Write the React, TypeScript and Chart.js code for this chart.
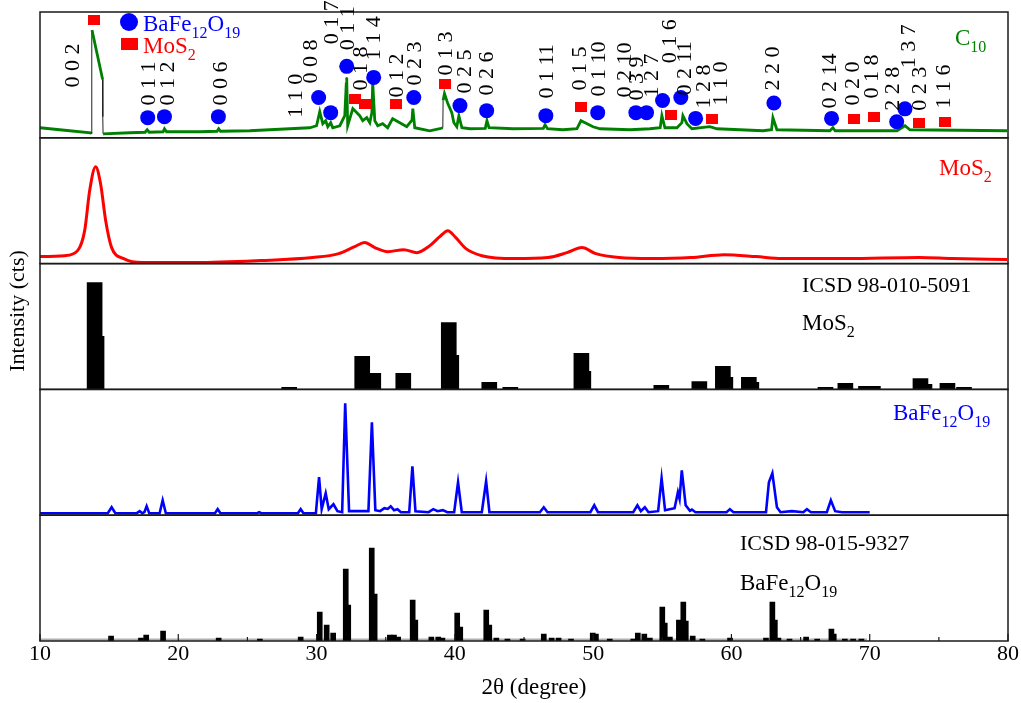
import React, { useEffect, useRef } from 'react';
import { Chart, registerables } from 'chart.js';
Chart.register(...registerables);

const FONT = '"Liberation Serif", "Times New Roman", serif';
const GREEN = '#008000';
const RED = '#ff0000';
const BLUE = '#0000ff';

// x axis tick labels (2θ, degree)
const xTickValues = [10, 20, 30, 40, 50, 60, 70, 80];

// ---- Panel 1: C10 measured pattern ----
const c10Angle = [10.0, 11.42, 13.66, 13.72, 13.73, 13.76, 14.53, 14.54, 14.56, 16.5, 17.6, 17.75, 17.9, 18.9, 19.0, 19.15,
  21.55, 22.8, 22.92, 23.05, 25.16, 28.06, 29.5, 30.0, 30.23, 30.45, 30.66, 30.81, 31.02, 31.17, 31.68, 32.04, 32.15,
  32.18, 32.25, 32.47, 32.62, 33.12, 33.34, 33.63, 33.85, 34.0, 34.06, 34.21, 34.42, 34.78, 35.14, 35.5, 36.02, 36.52,
  36.9, 36.96, 37.1, 38.18, 38.91, 39.13, 39.15, 39.25, 39.49, 39.78, 39.93, 40.14, 40.29, 40.51, 41.09, 42.2, 42.32,
  42.47, 44.2, 46.4, 46.52, 46.7, 47.82, 48.83, 49.12, 49.56, 49.99, 50.5, 52.67, 54.1, 54.85, 54.97, 55.19, 56.06,
  56.42, 56.49, 56.78, 57.14, 58.44, 58.95, 62.28, 62.9, 63.0, 63.29, 67.12, 67.34, 67.5, 71.97, 72.55, 72.91, 79.93];
const c10Intensity = [8, 6.4, 4, 3.2, 58.4, 85.6, 46.4, 16.8, 3.2, 4.0, 4.4, 6.4, 4.4, 4.8, 7.2, 4.8,
  4.8, 5.2, 7.2, 5.2, 5.6, 7.2, 8.0, 9.6, 20.8, 11.2, 13.6, 8.8, 12, 8, 9.6, 17.6, 44,
  48, 9.6, 17.6, 23.2, 17.6, 13.6, 16, 12, 20, 44, 13.6, 9.6, 11.2, 8, 15.2, 12, 8.8,
  14, 23.2, 8, 5.6, 7.2, 8, 29.6, 35.2, 27.2, 20, 12, 8.8, 17.6, 8, 7.2, 7.5, 13.6,
  8, 7.2, 7.5, 10.4, 7.2, 6.4, 7.2, 13.6, 11.2, 8.8, 7.2, 6.4, 7.2, 8, 17.6, 8, 8,
  12, 17.6, 11.2, 7.2, 8.8, 7.2, 5.6, 6.4, 16, 6.4, 5.6, 8, 5.6, 5.6, 9.6, 6.4, 5.6];

// phase markers on the C10 pattern
const ferriteMarkAngle = [17.79, 19.0, 22.9, 30.15, 31.02, 32.18, 34.13, 37.03, 40.37, 42.3, 46.58, 50.33, 53.09, 53.86,
  55.02, 56.34, 57.41, 63.07, 67.24, 71.95, 72.55];
const ferriteMarkHeight = [16, 16.8, 16.8, 32, 20, 56.8, 48, 32, 25.6, 21.6, 17.6, 20, 20, 20,
  29.6, 32, 15.4, 27.7, 15.4, 12.8, 23];
const mos2MarkAngle = [13.88, 32.75, 33.47, 35.72, 39.27, 49.12, 55.63, 58.6, 68.86, 70.31, 73.56, 75.44];
const mos2MarkHeight = [93.6, 31.2, 27.2, 27.2, 42.4, 24.8, 18.4, 15.2, 15.2, 16.8, 12, 12.8];

// Miller indices (label text, 2θ, bottom of label in panel-1 units)
const hklText = ['0 0 2', '0 1 1', '0 1 2', '0 0 6', '1 1 0', '0 0 8', '0 1 7', '0 1 1', '0 1 8', '1 1 4', '0 1 2', '0 2 3',
  '0 1 3', '0 2 5', '0 2 6', '0 1 11', '0 1 5', '0 1 10', '0 2 10', '0 3 9', '1 2 7', '0 1 6', '0 2 11', '1 2 8', '1 1 0',
  '2 2 0', '0 2 14', '0 2 0', '0 1 8', '2 2 8', '1 3 7', '0 2 3', '1 1 6'];
const hklAngle = [12.43, 17.93, 19.3, 23.14, 28.56, 29.58, 31.12, 32.32, 33.26, 34.2, 35.8, 37.1,
  39.34, 40.72, 42.32, 46.66, 49.04, 50.41, 52.29, 53.16, 54.24, 55.55, 56.63, 58.0, 59.25,
  63.0, 67.12, 68.79, 70.16, 71.68, 72.84, 73.63, 75.37];
const hklHeight = [40, 25.6, 25.6, 25.6, 16, 43.2, 74.4, 69.6, 37.6, 61.6, 32, 41.6,
  49.6, 35.2, 33.6, 31.2, 37.6, 32.8, 32, 29.6, 32, 59.2, 33.6, 23.2, 25.6,
  37.6, 23.2, 25.6, 31.2, 21.6, 55.2, 21.6, 23.2];

// ---- Panel 2: MoS2 measured pattern ----
const mos2Angle = [10.0, 11.78, 12.72, 13.23, 13.59, 14.02, 14.38, 14.75, 15.18, 16.05, 17.42, 21.26, 25.96, 29.72, 31.6,
  32.76, 33.48, 34.21, 35.15, 36.31, 37.25, 38.19, 38.91, 39.49, 40.07, 40.8, 41.95, 44.34, 46.73, 48.11, 49.19, 50.2,
  51.87, 54.25, 57.07, 59.46, 61.78, 63.66, 68.36, 73.57, 75.96, 79.93];
const mos2Intensity = [5.6, 6.3, 10.3, 26.2, 57.9, 77.0, 63.5, 34.1, 12.7, 4.0, 0.8, 0.8, 2.4, 4.8, 7.9,
  13.5, 16.7, 12.7, 9.5, 11.1, 8.7, 14.3, 21.4, 26.2, 20.6, 11.9, 6.3, 4.0, 4.8, 8.7, 12.7, 7.9,
  4.8, 4.0, 4.8, 7.1, 5.6, 4.0, 4.0, 4.8, 4.0, 3.2];

// ---- Panel 3: ICSD 98-010-5091 MoS2 reference ----
const mos2RefAngle = [13.95, 14.09, 28.02, 33.3, 34.1, 36.27, 39.56, 39.74, 42.49, 44.01, 49.15, 49.29, 54.93, 57.68,
  59.38, 59.56, 61.26, 61.44, 66.8, 68.24, 69.73, 70.23, 73.67, 73.96, 75.62, 76.82];
const mos2RefIntensity = [84.9, 42.1, 1.6, 26.2, 12.7, 12.7, 53.2, 27.0, 5.6, 1.6, 28.6, 14.3, 3.2, 6.3,
  18.3, 9.5, 9.5, 5.6, 1.6, 4.8, 2.4, 2.4, 8.7, 4.0, 4.8, 1.6];

// ---- Panel 4: BaFe12O19 measured pattern ----
const ferriteAngle = [10.0, 14.9, 15.18, 15.45, 17.0, 17.21, 17.4, 17.55, 17.71, 17.9, 18.65, 18.87, 19.1, 22.65, 22.85,
  23.05, 25.7, 25.85, 26.0, 28.65, 28.85, 29.05, 29.95, 30.18, 30.37, 30.66, 30.88, 31.22, 31.51, 31.85, 32.07, 32.35,
  33.48, 33.75, 34.0, 34.25, 34.6, 34.9, 35.15, 35.36, 35.6, 35.85, 36.1, 36.7, 36.93, 37.15, 38.1, 38.44, 38.75, 39.13,
  39.45, 39.95, 40.23, 40.5, 41.95, 42.26, 42.5, 46.15, 46.43, 46.7, 49.8, 50.08, 50.35, 52.9, 53.2, 53.45, 53.74, 54.0,
  54.7, 54.95, 55.2, 55.89, 56.13, 56.25, 56.41, 56.69, 57.0, 57.14, 57.4, 59.65, 59.89, 60.15, 62.5, 62.71, 62.96,
  63.29, 63.55, 64.37, 65.2, 65.46, 65.75, 66.9, 67.19, 67.5, 68.0, 70.0];
const ferriteIntensity = [1.6, 1.6, 6.3, 1.6, 1.6, 3.2, 1.6, 2.4, 7.1, 1.6, 1.6, 11.9, 1.6, 1.6, 4.8,
  1.6, 1.6, 2.4, 1.6, 1.6, 4.8, 1.6, 1.6, 30.2, 4.8, 17.5, 4.8, 8.7, 3.2, 2.4, 88.9, 3.2,
  3.2, 3.2, 73.8, 4.0, 3.2, 5.6, 5.0, 7.1, 4.0, 4.8, 2.4, 2.4, 38.9, 3.2, 2.4, 4.8, 3.2, 4.0,
  2.4, 2.4, 26.2, 2.4, 2.4, 27.0, 2.4, 2.4, 6.3, 2.4, 2.4, 7.9, 2.4, 2.4, 7.9, 3.2, 6.3, 2.4,
  3.2, 29.4, 4.0, 5.6, 18.3, 13, 35.7, 7.9, 3.5, 4.5, 2.4, 2.4, 4.8, 2.4, 2.4, 26.2, 33.3,
  6.3, 2.4, 3.2, 2.4, 4.8, 2.4, 2.4, 11.9, 3.2, 2.4, 2.4];

// ---- Panel 5: ICSD 98-015-9327 BaFe12O19 reference ----
const ferriteRefAngle = [15.14, 17.3, 17.68, 18.9, 22.92, 25.9, 28.85, 30.23, 30.73, 31.2, 32.11, 32.29, 33.99, 34.2,
  35.3, 35.6, 35.9, 36.95, 37.14, 38.3, 38.8, 39.1, 40.17, 40.39, 42.27, 42.49, 43.0, 43.8, 44.9, 46.43, 47.0, 47.5,
  48.4, 49.97, 50.2, 51.2, 52.9, 53.23, 53.7, 54.1, 55.0, 55.18, 55.55, 56.2, 56.52, 56.7, 57.2, 57.9, 59.9, 62.5,
  62.96, 63.14, 63.4, 64.2, 65.4, 66.2, 67.23, 67.4, 68.2, 68.8, 69.4];
const ferriteRefIntensity = [4.0, 2.4, 4.8, 7.9, 2.4, 1.6, 3.2, 23.0, 12.7, 6.3, 57.1, 28.6, 73.8, 37.3,
  4.8, 4.8, 3.2, 32.5, 16.7, 3.2, 3.2, 2.4, 22.2, 11.1, 24.6, 12.7, 2.4, 1.6, 1.6, 5.6, 2.4, 2.4,
  1.6, 6.3, 5.6, 1.6, 1.6, 6.3, 5.6, 2.4, 27.0, 14.3, 3.2, 16.7, 31.0, 15.9, 4.0, 1.6, 2.4, 2.4,
  31.0, 16.7, 2.4, 1.6, 3.2, 1.6, 9.5, 5.6, 1.6, 1.6, 1.6];
const ferriteRefRange = [10, 69.8];
const ferriteRefBase = [1.2, 1.2];

type Part = [string, boolean?];

function drawRich(ctx: CanvasRenderingContext2D, parts: Part[], x: number, y: number, size: number, color: string) {
  let cx = x;
  ctx.fillStyle = color;
  ctx.textAlign = 'left';
  ctx.textBaseline = 'alphabetic';
  for (const [t, sub] of parts) {
    const fs = sub ? Math.round(size * 0.68) : size;
    ctx.font = `${fs}px ${FONT}`;
    ctx.fillText(t, cx, sub ? y + size * 0.3 : y);
    cx += ctx.measureText(t).width;
  }
}

const zip = (xs: number[], ys: number[]) => xs.map((x, i) => ({ x, y: ys[i] }));

export default function App() {
  const ref = useRef<HTMLCanvasElement>(null);

  useEffect(() => {
    const canvas = ref.current!;
    const rectMark = document.createElement('canvas');
    rectMark.width = 12;
    rectMark.height = 10;
    const rc = rectMark.getContext('2d')!;
    rc.fillStyle = RED;
    rc.fillRect(0, 0, 12, 10);

    const panel = () => ({
      type: 'linear',
      min: 0,
      max: 100,
      stack: 'panels',
      stackWeight: 1,
      offset: false,
      position: 'left',
      ticks: { display: false },
      grid: { display: false, drawTicks: false },
      border: { display: false },
      afterFit: (s: any) => { s.width = 0; },
    });

    const decor = {
      id: 'decor',
      afterDraw(chart: any) {
        const ctx: CanvasRenderingContext2D = chart.ctx;
        const { left, right, bottom } = chart.chartArea;
        const xs = chart.scales.x;
        const y1 = chart.scales.y1;
        ctx.save();
        // panel frames
        ctx.strokeStyle = '#1a1a1a';
        ctx.lineWidth = 1.5;
        for (const id of ['y1', 'y2', 'y3', 'y4', 'y5']) {
          const s = chart.scales[id];
          ctx.strokeRect(left, s.top, right - left, s.bottom - s.top);
        }
        // inward ticks on the 2θ axis
        ctx.lineWidth = 1.2;
        for (let v = 10; v <= 80; v += 5) {
          const px = xs.getPixelForValue(v);
          const len = v % 10 === 0 ? 7 : 4;
          ctx.beginPath();
          ctx.moveTo(px, bottom);
          ctx.lineTo(px, bottom - len);
          ctx.stroke();
        }
        // Miller indices
        ctx.fillStyle = '#000';
        ctx.font = `22px ${FONT}`;
        ctx.textAlign = 'left';
        ctx.textBaseline = 'middle';
        hklText.forEach((t, i) => {
          ctx.save();
          ctx.translate(xs.getPixelForValue(hklAngle[i]), y1.getPixelForValue(hklHeight[i]));
          ctx.rotate(-Math.PI / 2);
          ctx.fillText(t, 0, 0);
          ctx.restore();
        });
        // legend
        ctx.fillStyle = BLUE;
        ctx.beginPath();
        ctx.arc(129, 22, 9, 0, Math.PI * 2);
        ctx.fill();
        ctx.fillStyle = RED;
        ctx.fillRect(121, 38, 17, 12);
        drawRich(ctx, [['BaFe'], ['12', true], ['O'], ['19', true]], 143, 31, 23, BLUE);
        drawRich(ctx, [['MoS'], ['2', true]], 143, 53, 23, RED);
        // panel captions
        drawRich(ctx, [['C'], ['10', true]], 955, 45, 23, GREEN);
        drawRich(ctx, [['MoS'], ['2', true]], 939, 175, 23, RED);
        drawRich(ctx, [['ICSD 98-010-5091']], 802, 292, 22, '#000');
        drawRich(ctx, [['MoS'], ['2', true]], 802, 330, 23, '#000');
        drawRich(ctx, [['BaFe'], ['12', true], ['O'], ['19', true]], 893, 420, 23, BLUE);
        drawRich(ctx, [['ICSD 98-015-9327']], 740, 550, 22, '#000');
        drawRich(ctx, [['BaFe'], ['12', true], ['O'], ['19', true]], 740, 590, 23, '#000');
        // axis titles
        ctx.fillStyle = '#000';
        ctx.font = `23px ${FONT}`;
        ctx.textAlign = 'center';
        ctx.textBaseline = 'middle';
        ctx.fillText('2θ (degree)', 534, 688);
        ctx.save();
        ctx.translate(18, 311);
        ctx.rotate(-Math.PI / 2);
        ctx.font = `22px ${FONT}`;
        ctx.fillText('Intensity (cts)', 0, 0);
        ctx.restore();
        ctx.restore();
      },
    };

    const steep = (c: any) => Math.abs(c.p1.parsed.x - c.p0.parsed.x) < 0.05;

    const chart = new Chart(canvas, {
      type: 'line',
      data: {
        datasets: [
          {
            type: 'line', label: 'BaFe12O19 marks', data: zip(ferriteMarkAngle, ferriteMarkHeight), yAxisID: 'y1',
            showLine: false, pointStyle: 'circle', pointRadius: 7.5, pointBackgroundColor: BLUE, pointBorderWidth: 0, order: -2,
          },
          {
            type: 'line', label: 'MoS2 marks', data: zip(mos2MarkAngle, mos2MarkHeight), yAxisID: 'y1',
            showLine: false, pointStyle: rectMark as any, pointRadius: 6, order: -2,
          },
          {
            type: 'line', label: 'C10', data: zip(c10Angle, c10Intensity), yAxisID: 'y1',
            borderColor: GREEN, borderWidth: 2.8, pointRadius: 0, tension: 0,
            segment: {
              borderColor: (c: any) => (steep(c) ? '#222' : GREEN),
              borderWidth: (c: any) => (steep(c) ? 1 : 2.8),
            },
          },
          {
            type: 'line', label: 'MoS2', data: zip(mos2Angle, mos2Intensity), yAxisID: 'y2',
            borderColor: RED, borderWidth: 3, pointRadius: 0, cubicInterpolationMode: 'monotone',
          },
          {
            type: 'bar', label: 'ICSD MoS2', data: zip(mos2RefAngle, mos2RefIntensity), yAxisID: 'y3',
            backgroundColor: '#000', borderWidth: 0, barThickness: 15, grouped: false,
          },
          {
            type: 'line', label: 'BaFe12O19', data: zip(ferriteAngle, ferriteIntensity), yAxisID: 'y4',
            borderColor: BLUE, borderWidth: 2.6, pointRadius: 0, tension: 0,
          },
          {
            type: 'bar', label: 'ICSD BaFe12O19', data: zip(ferriteRefAngle, ferriteRefIntensity), yAxisID: 'y5',
            backgroundColor: '#000', borderWidth: 0, barThickness: 5, grouped: false,
          },
          {
            type: 'line', label: 'ICSD range', data: zip(ferriteRefRange, ferriteRefBase), yAxisID: 'y5',
            borderColor: '#b0b0b0', borderWidth: 2, pointRadius: 0, order: 2,
          },
        ] as any,
      },
      options: {
        animation: false,
        responsive: false,
        events: [],
        layout: { padding: { left: 40, right: 13, top: 12, bottom: 0 } },
        plugins: { legend: { display: false }, tooltip: { enabled: false } },
        scales: {
          x: {
            type: 'linear', min: 10, max: 80, position: 'bottom', offset: false,
            grid: { display: false, drawTicks: false },
            border: { display: false },
            ticks: { font: { family: FONT, size: 22 }, color: '#000', padding: 0, maxRotation: 0, autoSkip: false },
            afterBuildTicks: (s: any) => { s.ticks = xTickValues.map((v) => ({ value: v })); },
            afterFit: (s: any) => { s.height = 62; },
          },
          y5: panel(),
          y4: panel(),
          y3: panel(),
          y2: panel(),
          y1: panel(),
        } as any,
      },
      plugins: [decor],
    });
    return () => chart.destroy();
  }, []);

  return (
    <div style={{ position: 'fixed', left: 0, top: 0, width: 1021, height: 703, background: '#fff' }}>
      <canvas ref={ref} width={1021} height={703} style={{ width: 1021, height: 703, display: 'block' }} />
    </div>
  );
}
